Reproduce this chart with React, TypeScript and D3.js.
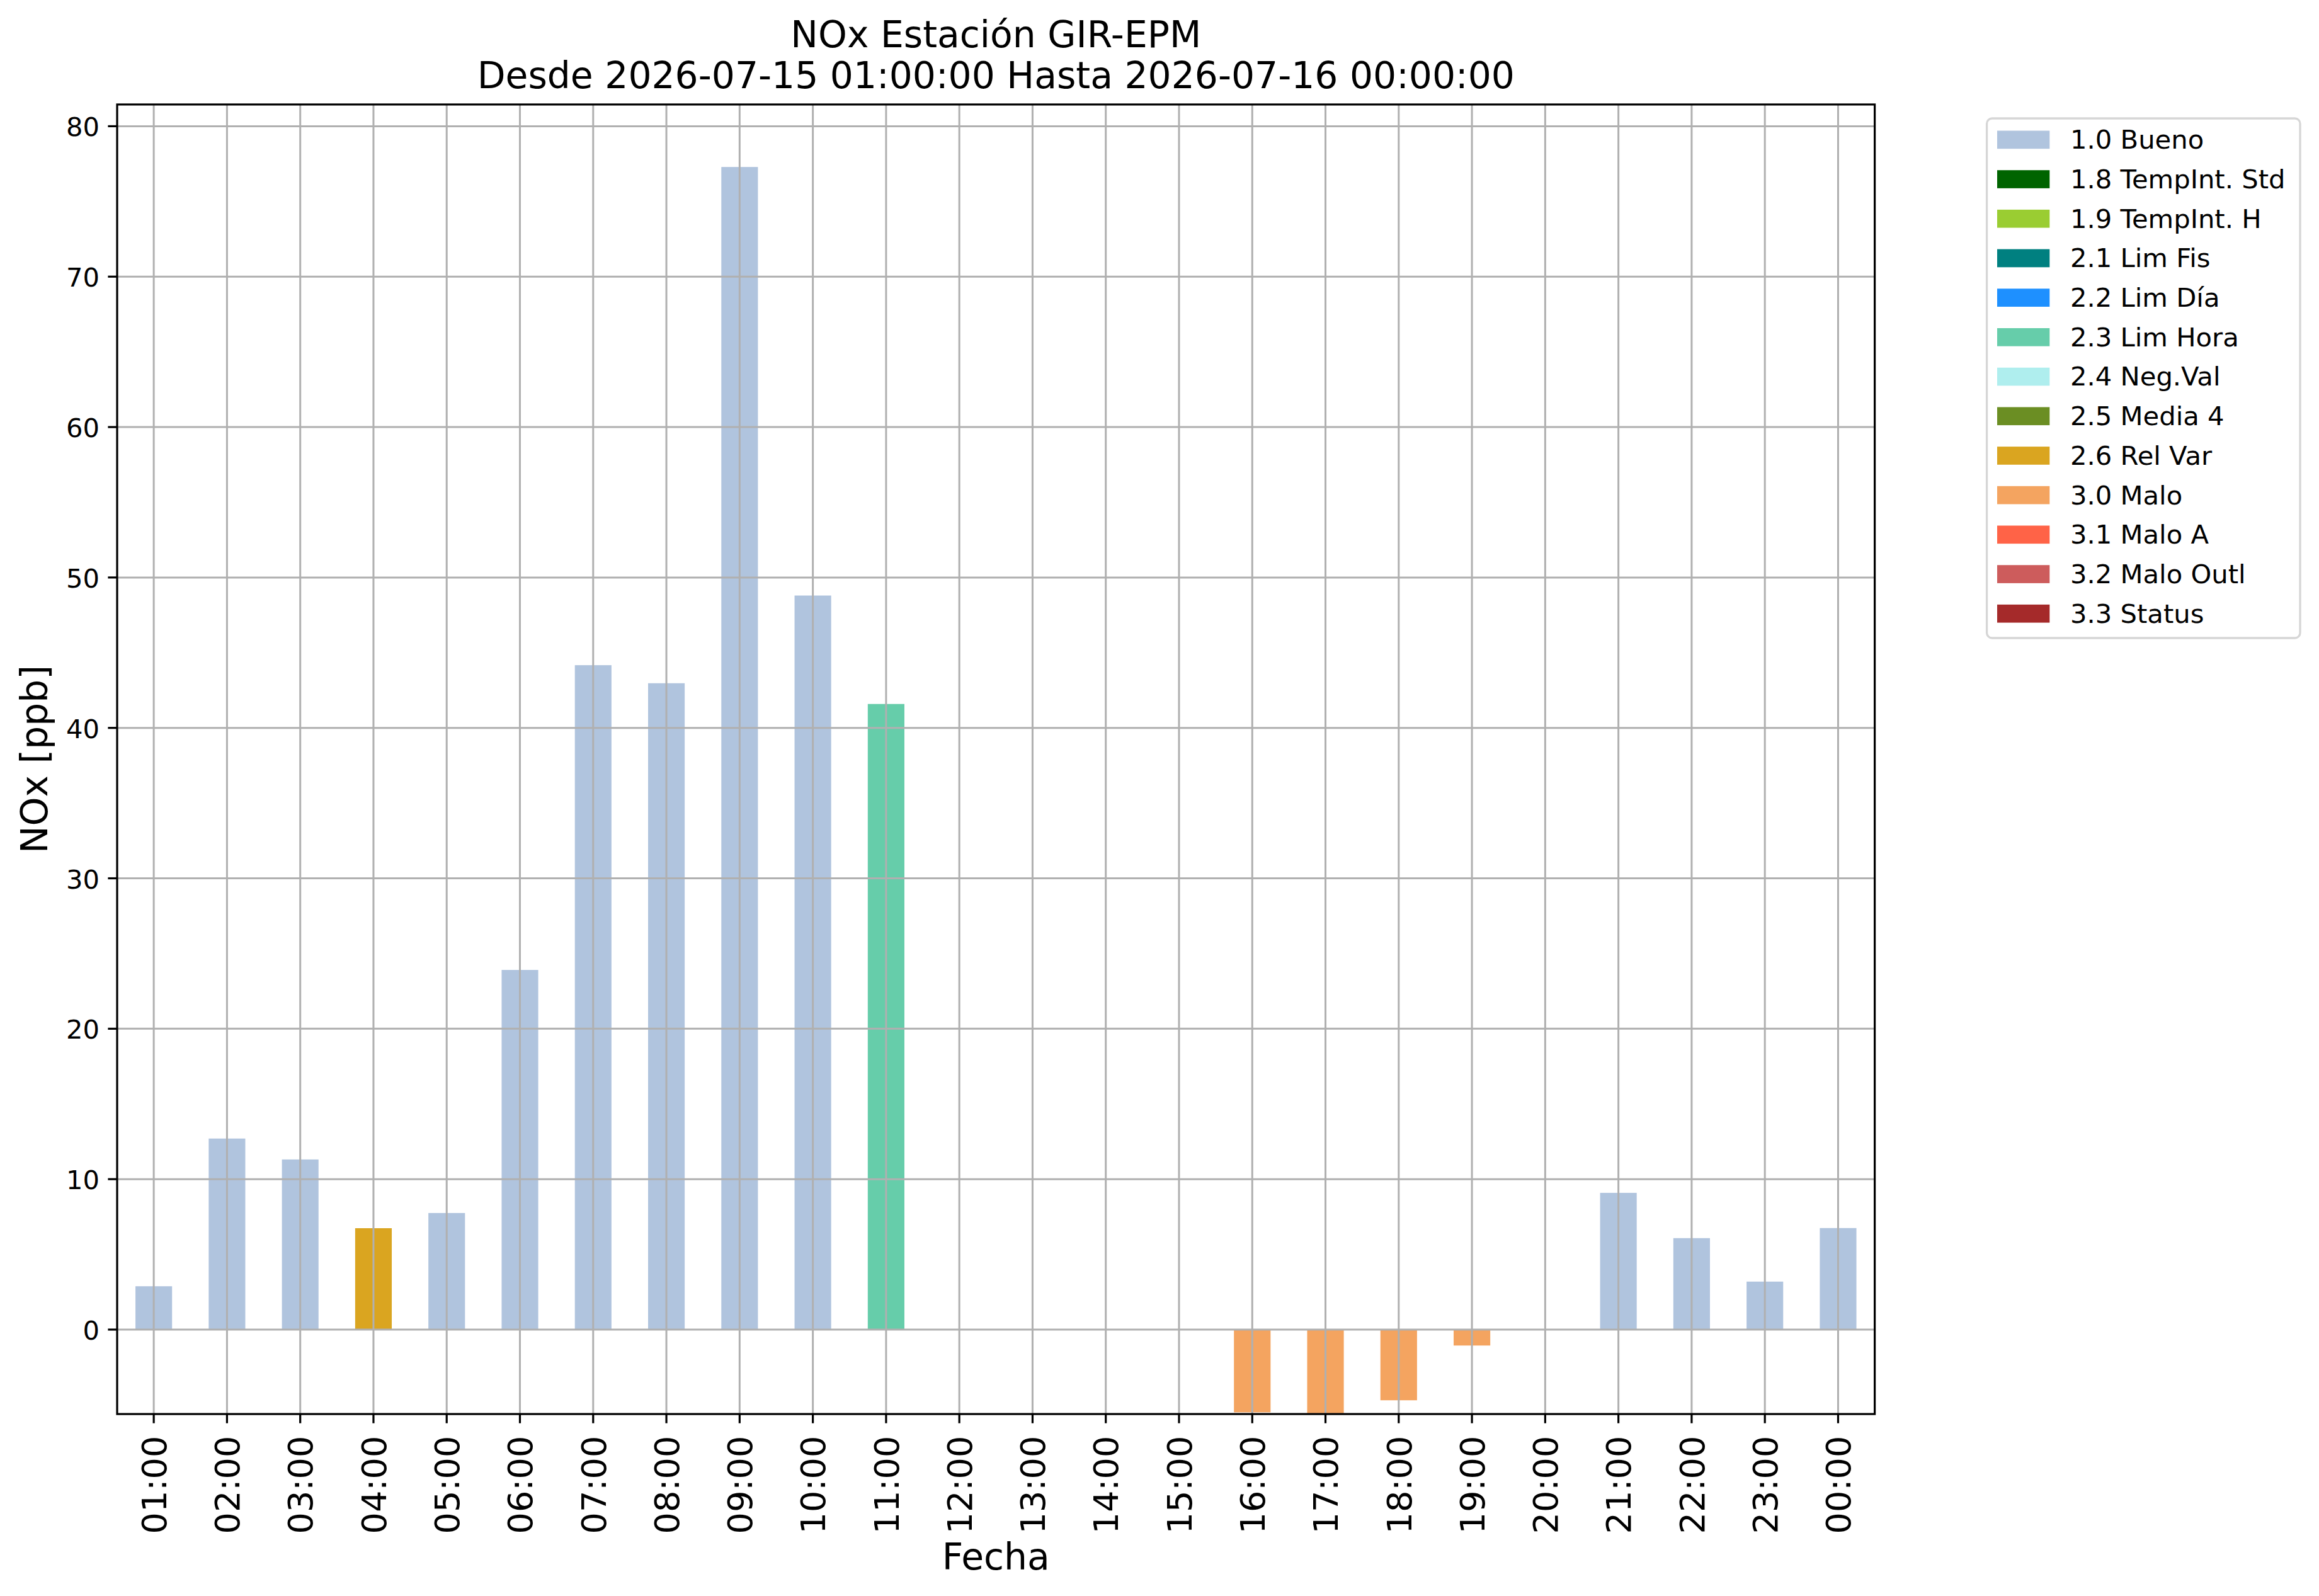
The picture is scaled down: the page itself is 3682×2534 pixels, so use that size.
import * as d3 from "d3";
import React from "react";

// hourly NOx values and their validation flag
const hours = [
	"01:00", "02:00", "03:00", "04:00", "05:00", "06:00", "07:00", "08:00",
	"09:00", "10:00", "11:00", "12:00", "13:00", "14:00", "15:00", "16:00",
	"17:00", "18:00", "19:00", "20:00", "21:00", "22:00", "23:00", "00:00",
];
const values: (number | null)[] = [
	2.88, 12.7, 11.31, 6.74, 7.75, 23.91, 44.17, 42.97,
	77.29, 48.8, 41.59, null, null, null, null, -5.5,
	-5.56, -4.7, -1.06, null, 9.09, 6.08, 3.19, 6.75,
];
const flags: (string | null)[] = [
	"1.0", "1.0", "1.0", "2.6", "1.0", "1.0", "1.0", "1.0",
	"1.0", "1.0", "2.3", null, null, null, null, "3.0",
	"3.0", "3.0", "3.0", null, "1.0", "1.0", "1.0", "1.0",
];

const flagCodes = [
	"1.0", "1.8", "1.9", "2.1", "2.2", "2.3", "2.4", "2.5", "2.6", "3.0", "3.1", "3.2", "3.3",
];
const flagNames = [
	"1.0 Bueno", "1.8 TempInt. Std", "1.9 TempInt. H", "2.1 Lim Fis", "2.2 Lim Día",
	"2.3 Lim Hora", "2.4 Neg.Val", "2.5 Media 4", "2.6 Rel Var", "3.0 Malo",
	"3.1 Malo A", "3.2 Malo Outl", "3.3 Status",
];
const flagColors = [
	"lightsteelblue", "darkgreen", "yellowgreen", "teal", "dodgerblue",
	"mediumaquamarine", "paleturquoise", "olivedrab", "goldenrod", "sandybrown",
	"tomato", "indianred", "brown",
];

const yTicks = [0, 10, 20, 30, 40, 50, 60, 70, 80];
const yDomain: [number, number] = [-5.615, 81.445];

const titleLines = ["NOx Estación GIR-EPM", "Desde 2026-07-15 01:00:00 Hasta 2026-07-16 00:00:00"];

const W = 3682,
	H = 2534;
const plot = { left: 186, right: 2976.6, top: 165.9, bottom: 2245.1 };
const font = "DejaVu Sans, Liberation Sans, sans-serif";
const gridColor = "#b0b0b0";

const App = () => {
	const x = d3
		.scaleBand<string>()
		.domain(hours)
		.range([plot.left, plot.right])
		.padding(0);
	const bw = x.bandwidth();
	const cx = (h: string) => (x(h) ?? 0) + bw / 2;

	const y = d3.scaleLinear().domain(yDomain).range([plot.bottom, plot.top]);
	const color = d3.scaleOrdinal<string, string>().domain(flagCodes).range(flagColors);

	const bars = hours
		.map((h, i) => ({ h, v: values[i], f: flags[i] }))
		.filter((d) => d.v !== null && d.f !== null) as { h: string; v: number; f: string }[];

	const midX = (plot.left + plot.right) / 2;
	const midY = (plot.top + plot.bottom) / 2;

	const legend = { left: 3154.6, top: 188, right: 3652, bottom: 1013, row: 62.7 };

	return (
		<svg
			width={W}
			height={H}
			viewBox={`0 0 ${W} ${H}`}
			style={{ position: "absolute", left: 0, top: 0, background: "#fff" }}
			fontFamily={font}
		>
			<rect x={0} y={0} width={W} height={H} fill="#fff" />

			<defs>
				<clipPath id="plot-clip">
					<rect
						x={plot.left}
						y={plot.top}
						width={plot.right - plot.left}
						height={plot.bottom - plot.top}
					/>
				</clipPath>
			</defs>

			{/* bars */}
			<g clipPath="url(#plot-clip)">
				{bars.map((d) => (
					<rect
						key={d.h}
						x={cx(d.h) - bw / 4}
						width={bw / 2}
						y={Math.min(y(d.v), y(0))}
						height={Math.abs(y(d.v) - y(0))}
						fill={color(d.f)}
					/>
				))}
			</g>

			{/* grid on top of the bars */}
			<g stroke={gridColor} strokeWidth={3}>
				{hours.map((h) => (
					<line key={h} x1={cx(h)} x2={cx(h)} y1={plot.top} y2={plot.bottom} />
				))}
				{yTicks.map((t) => (
					<line key={t} x1={plot.left} x2={plot.right} y1={y(t)} y2={y(t)} />
				))}
			</g>

			{/* spines */}
			<rect
				x={plot.left}
				y={plot.top}
				width={plot.right - plot.left}
				height={plot.bottom - plot.top}
				fill="none"
				stroke="#000"
				strokeWidth={3.2}
			/>

			{/* y axis */}
			<g>
				{yTicks.map((t) => (
					<g key={t}>
						<line
							x1={plot.left - 14.6}
							x2={plot.left}
							y1={y(t)}
							y2={y(t)}
							stroke="#000"
							strokeWidth={3.2}
						/>
						<text x={158} y={y(t) + 16} fontSize={41.7} textAnchor="end" fill="#000">
							{t}
						</text>
					</g>
				))}
			</g>

			{/* x axis */}
			<g>
				{hours.map((h) => (
					<g key={h}>
						<line
							x1={cx(h)}
							x2={cx(h)}
							y1={plot.bottom}
							y2={plot.bottom + 14.6}
							stroke="#000"
							strokeWidth={3.2}
						/>
						<text
							transform={`translate(${cx(h)},${2279.5}) rotate(-90)`}
							dy="0.364em"
							fontSize={54.17}
							textAnchor="end"
							fill="#000"
						>
							{h}
						</text>
					</g>
				))}
			</g>

			{/* axis labels */}
			<text x={midX} y={2491.7} fontSize={58.33} textAnchor="middle" fill="#000">
				Fecha
			</text>
			<text
				transform={`translate(75,${midY}) rotate(-90)`}
				fontSize={58.33}
				textAnchor="middle"
				fill="#000"
			>
				NOx [ppb]
			</text>

			{/* title */}
			{titleLines.map((line, i) => (
				<text key={i} x={midX} y={75 + i * 65} fontSize={58.33} textAnchor="middle" fill="#000">
					{line}
				</text>
			))}

			{/* legend */}
			<g>
				<rect
					x={legend.left}
					y={legend.top}
					width={legend.right - legend.left}
					height={legend.bottom - legend.top}
					rx={8.3}
					ry={8.3}
					fill="#fff"
					fillOpacity={0.8}
					stroke="#cccccc"
					strokeOpacity={0.8}
					strokeWidth={3.3}
				/>
				{flagNames.map((name, i) => (
					<g key={name}>
						<rect
							x={3171}
							y={207.5 + i * legend.row}
							width={83.3}
							height={28.7}
							fill={color(flagCodes[i])}
						/>
						<text x={3287} y={236.2 + i * legend.row} fontSize={41.7} fill="#000">
							{name}
						</text>
					</g>
				))}
			</g>
		</svg>
	);
};

export default App;
